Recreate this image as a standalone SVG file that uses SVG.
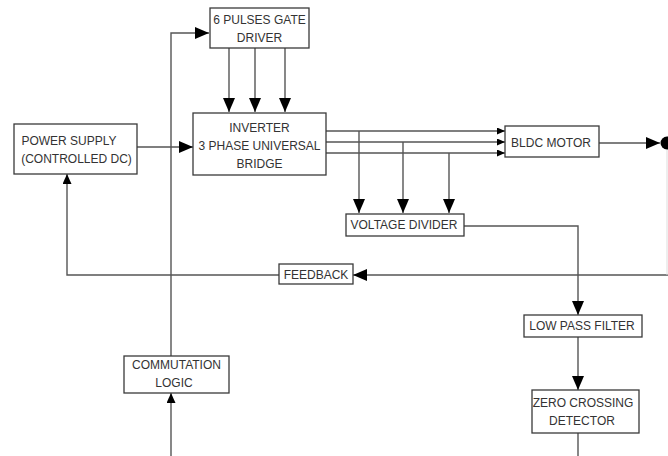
<svg xmlns="http://www.w3.org/2000/svg" width="668" height="456" viewBox="0 0 668 456">
<style>
.box{fill:#fff;stroke:#3a3a3a;stroke-width:1.3}
.t{font-family:"Liberation Sans",Arial,sans-serif;font-size:12px;fill:#333;text-anchor:middle}
.ln{fill:none;stroke:#555;stroke-width:1.4}
</style>
<defs>
<marker id="big" viewBox="0 0 14 12" refX="14" refY="6" markerWidth="14" markerHeight="12" markerUnits="userSpaceOnUse" orient="auto">
<path d="M0,0 L14,6 L0,12 z" fill="#000"/>
</marker>
<marker id="mid" viewBox="0 0 10 9" refX="10" refY="4.5" markerWidth="10" markerHeight="9" markerUnits="userSpaceOnUse" orient="auto">
<path d="M0,0 L10,4.5 L0,9 z" fill="#000"/>
</marker>
<marker id="small" viewBox="0 0 8 7" refX="8" refY="3.5" markerWidth="8" markerHeight="7" markerUnits="userSpaceOnUse" orient="auto">
<path d="M0,0 L8,3.5 L0,7 z" fill="#000"/>
</marker>
</defs>
<rect width="668" height="456" fill="#fff"/>
<g id="connectors">
<path class="ln" d="M171,356 V33 H209" marker-end="url(#big)"/>
<path class="ln" d="M229,48 V112" marker-end="url(#big)"/>
<path class="ln" d="M255,48 V112" marker-end="url(#big)"/>
<path class="ln" d="M285,48 V112" marker-end="url(#big)"/>
<path class="ln" d="M137,147 H193" marker-end="url(#big)"/>
<path class="ln" d="M326,131 H505" marker-end="url(#small)"/>
<path class="ln" d="M326,142 H505" marker-end="url(#small)"/>
<path class="ln" d="M326,153 H505" marker-end="url(#small)"/>
<path class="ln" d="M359,131 V213" marker-end="url(#big)"/>
<path class="ln" d="M403,142 V213" marker-end="url(#big)"/>
<path class="ln" d="M449,153 V213" marker-end="url(#big)"/>
<path class="ln" d="M464,226 H578 V315" marker-end="url(#big)"/>
<path class="ln" d="M578,337 V390" marker-end="url(#big)"/>
<path class="ln" d="M578,433 V456"/>
<path class="ln" d="M171,456 V393" marker-end="url(#mid)"/>
<path class="ln" d="M668,275 H353" marker-end="url(#big)"/>
<path class="ln" d="M279,275 H67 V174" marker-end="url(#mid)"/>
<path class="ln" d="M599,143 H660" marker-end="url(#big)"/>
<circle cx="667" cy="143" r="6.5" fill="#000"/>
<path d="M667,150 V275" fill="none" stroke="#ddd" stroke-width="1"/>
</g>
<g id="gate-driver">
<rect class="box" x="210" y="8" width="99" height="40"/>
<text class="t" x="259.5" y="24">6 PULSES GATE</text>
<text class="t" x="259.5" y="42">DRIVER</text>
</g>
<g id="power-supply">
<rect class="box" x="14" y="124" width="123" height="50"/>
<text class="t" x="69" y="145">POWER SUPPLY</text>
<text class="t" x="76.5" y="163">(CONTROLLED DC)</text>
</g>
<g id="inverter">
<rect class="box" x="193" y="113" width="133" height="62"/>
<text class="t" x="259.5" y="132">INVERTER</text>
<text class="t" x="259.5" y="150">3 PHASE UNIVERSAL</text>
<text class="t" x="259.5" y="168">BRIDGE</text>
</g>
<g id="bldc-motor">
<rect class="box" x="505" y="126" width="94" height="31"/>
<text class="t" x="551" y="147">BLDC MOTOR</text>
</g>
<g id="voltage-divider">
<rect class="box" x="346" y="214" width="118" height="22"/>
<text class="t" x="404" y="229">VOLTAGE DIVIDER</text>
</g>
<g id="feedback">
<rect class="box" x="279" y="264" width="74" height="20"/>
<text class="t" x="316" y="279">FEEDBACK</text>
</g>
<g id="low-pass-filter">
<rect class="box" x="524" y="315" width="118" height="22"/>
<text class="t" x="582" y="330">LOW PASS FILTER</text>
</g>
<g id="zero-crossing">
<rect class="box" x="532" y="390" width="107" height="43"/>
<text class="t" x="583" y="407">ZERO CROSSING</text>
<text class="t" x="582" y="425">DETECTOR</text>
</g>
<g id="commutation-logic">
<rect class="box" x="124" y="356" width="105" height="37"/>
<text class="t" x="176.5" y="369">COMMUTATION</text>
<text class="t" x="174" y="387">LOGIC</text>
</g>
</svg>
